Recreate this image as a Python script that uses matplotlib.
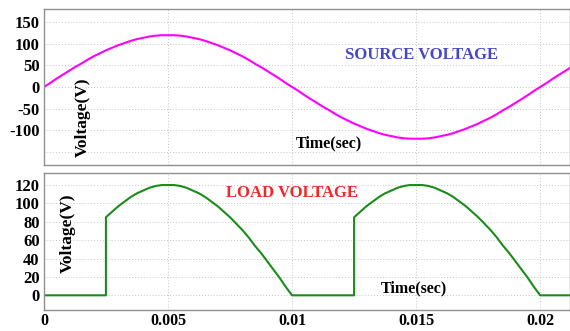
import matplotlib
matplotlib.use("Agg")
import matplotlib.pyplot as plt
import numpy as np

SRC_STEP = 0.00025
SRC_V = [0, 9, 19, 28, 37, 46, 54, 63, 71, 78, 85, 91, 97, 102, 107, 111, 114, 117, 119, 120,
         120, 120, 119, 117, 114, 111, 107, 102, 97, 91, 85, 78, 71, 63, 54, 46, 37, 28, 19, 9,
         0, -9, -19, -28, -37, -46, -54, -63, -71, -78, -85, -91, -97, -102, -107, -111, -114, -117, -119, -120,
         -120, -120, -119, -117, -114, -111, -107, -102, -97, -91, -85, -78, -71, -63, -54, -46, -37, -28, -19, -9,
         0, 9, 19, 28, 37, 46]

# load voltage: conducting humps after firing at 2.5 ms / 12.5 ms
FIRE_T = [0.0025, 0.0125]
HUMP_END = [0.01, 0.02]
HUMP_V = [85, 91, 97, 102, 107, 111, 114, 117, 119, 120, 120, 120, 119, 117, 114, 111,
          107, 102, 97, 91, 85, 78, 71, 63, 54, 46, 37, 28, 19, 9, 0]
T_END = 0.0212

X_TICKS = [0, 0.005, 0.01, 0.015, 0.02]
X_LABELS = ["0", "0.005", "0.01", "0.015", "0.02"]
TOP_TICKS = [-150, -100, -50, 0, 50, 100, 150]
TOP_LABELS = ["", "-100", "-50", "0", "50", "100", "150"]
BOT_TICKS = [0, 20, 40, 60, 80, 100, 120]

plt.rcParams["font.family"] = ["Liberation Serif", "DejaVu Serif"]
plt.rcParams["font.weight"] = "bold"

src_t = np.arange(len(SRC_V)) * SRC_STEP
load_t, load_v = [0.0], [0]
for t0, t1 in zip(FIRE_T, HUMP_END):
    load_t += [t0] + list(np.linspace(t0, t1, len(HUMP_V)))
    load_v += [0] + HUMP_V
load_t.append(T_END)
load_v.append(0)

fig = plt.figure(figsize=(5.7, 3.31), dpi=100)
ax1 = fig.add_axes([0.077, 0.5015, 0.923, 0.4715])
ax2 = fig.add_axes([0.077, 0.0634, 0.923, 0.4136])

ax1.plot(src_t, SRC_V, color="#ff00ff", lw=1.5)
ax2.plot(load_t, load_v, color="#1a8c1a", lw=1.5)

for ax in (ax1, ax2):
    ax.set_xlim(0, T_END)
    ax.set_xticks(X_TICKS)
    ax.grid(True, color="#c4c4c4", linestyle=(0, (1, 2)), lw=0.7)
    ax.tick_params(length=0, labelsize=12, pad=3)
    for s in ax.spines.values():
        s.set_color("#909090")
        s.set_linewidth(1.0)

ax1.set_ylim(-181, 181)
ax1.set_yticks(TOP_TICKS)
ax1.set_yticklabels(TOP_LABELS, fontweight="bold")
ax1.set_xticklabels([])

ax2.set_ylim(-16, 133)
ax2.set_yticks(BOT_TICKS)
ax2.set_yticklabels([str(v) for v in BOT_TICKS], fontweight="bold")
ax2.set_xticklabels(X_LABELS, fontweight="bold")
ax2.tick_params(axis="x", pad=2.5, labelsize=11.5)

# annotations inside the panels
ax1.text(0.0152, 75, "SOURCE VOLTAGE", color="#4646c8", fontsize=12,
         fontweight="bold", ha="center", va="center")
ax1.text(0.0115, -132, "Time(sec)", color="black", fontsize=11.5,
         fontweight="bold", ha="center", va="center")
ax1.text(0.00158, -70, "Voltage(V)", color="black", fontsize=12.5,
         fontweight="bold", ha="center", va="center", rotation=90)

ax2.text(0.01, 111, "LOAD VOLTAGE", color="#f02828", fontsize=12,
         fontweight="bold", ha="center", va="center")
ax2.text(0.0149, 7, "Time(sec)", color="black", fontsize=11.5,
         fontweight="bold", ha="center", va="center")
ax2.text(0.00098, 68, "Voltage(V)", color="black", fontsize=12.5,
         fontweight="bold", ha="center", va="center", rotation=90)

fig.savefig("out.png", dpi=100)
plt.close(fig)
